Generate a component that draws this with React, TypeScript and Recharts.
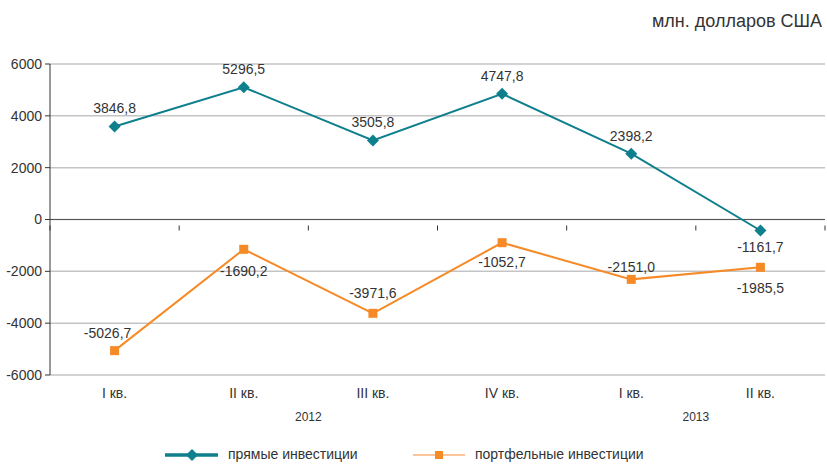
import { LineChart, Line, XAxis, YAxis, CartesianGrid, ReferenceLine } from 'recharts'

// quarters (unique ids so duplicate labels don't collapse)
const periodIds = ['2012-I', '2012-II', '2012-III', '2012-IV', '2013-I', '2013-II']
const quarterLabels = ['I кв.', 'II кв.', 'III кв.', 'IV кв.', 'I кв.', 'II кв.']
const years = ['2012', '2012', '2012', '2012', '2013', '2013']

// values as drawn (marker positions)
const directValues = [3590, 5100, 3050, 4850, 2540, -425]
const portfolioValues = [-5060, -1150, -3620, -895, -2310, -1845]

// printed data labels
const directLabels = ['3846,8', '5296,5', '3505,8', '4747,8', '2398,2', '-1161,7']
const portfolioLabels = ['-5026,7', '-1690,2', '-3971,6', '-1052,7', '-2151,0', '-1985,5']

const yTicks = [-6000, -4000, -2000, 0, 2000, 4000, 6000]
const Y_MIN = -6000
const Y_MAX = 6000

// label vertical offsets (px) relative to marker
const directLabelDy = [-18, -18, -18, -18, -18, 16]
const portfolioLabelDy = [-18, 22, -20, 19, -12, 21]
const portfolioLabelDx = [-7, 0, 0, 0, 0, 0]

const TEAL = '#0e7f8c'
const ORANGE = '#f58a26'
const FONT = '"Liberation Sans", Arial, sans-serif'

const W = 827
const H = 464
const MARGIN = { top: 64, right: 2, left: 0, bottom: 0 }
const Y_AXIS_W = 50
const X_AXIS_H = 89
const BAND = (W - MARGIN.left - MARGIN.right - Y_AXIS_W) / periodIds.length
const PLOT_H = H - MARGIN.top - MARGIN.bottom - X_AXIS_H

const data = periodIds.map((id, i) => ({
  id,
  direct: directValues[i],
  portfolio: portfolioValues[i],
}))

const Diamond = ({ cx, cy }: any) => (
  <path d={`M${cx},${cy - 6} L${cx + 6},${cy} L${cx},${cy + 6} L${cx - 6},${cy} Z`} fill={TEAL} />
)

const Square = ({ cx, cy }: any) => (
  <rect x={cx - 4.5} y={cy - 4.5} width={9} height={9} fill={ORANGE} />
)

const makeLabel = (texts: string[], dys: number[], dxs?: number[]) => (props: any) => {
  const { x, y, index } = props
  return (
    <text
      x={x + (dxs ? dxs[index] : 0)}
      y={y + dys[index]}
      textAnchor="middle"
      dominantBaseline="central"
      fontFamily={FONT}
      fontSize={14}
      fill="#333"
    >
      {texts[index]}
    </text>
  )
}

const QuarterTick = ({ x, y, payload }: any) => {
  const i = payload.index
  const first = years.indexOf(years[i])
  const count = years.filter((yr) => yr === years[i]).length
  // zero line sits inside the plot; category boundary ticks hang from it
  const zeroY = y - (PLOT_H * (0 - Y_MIN)) / (Y_MAX - Y_MIN)
  return (
    <g>
      <line x1={x - BAND / 2} y1={zeroY} x2={x - BAND / 2} y2={zeroY + 5} stroke="#333" />
      {i === periodIds.length - 1 && (
        <line x1={x + BAND / 2} y1={zeroY} x2={x + BAND / 2} y2={zeroY + 5} stroke="#333" />
      )}
      <text x={x} y={y + 17} textAnchor="middle" fontFamily={FONT} fontSize={14} fill="#333">
        {quarterLabels[i]}
      </text>
      {i === first && (
        <text
          x={x + ((count - 1) * BAND) / 2}
          y={y + 40}
          textAnchor="middle"
          fontFamily={FONT}
          fontSize={12}
          fill="#333"
        >
          {years[i]}
        </text>
      )}
    </g>
  )
}

export default function App() {
  return (
    <div style={{ position: 'absolute', left: 0, top: 0, width: W, height: H, background: '#fff' }}>
      <div
        style={{
          position: 'absolute',
          right: 5,
          top: 11,
          fontFamily: FONT,
          fontSize: 18,
          color: '#333',
        }}
      >
        млн. долларов США
      </div>
      <LineChart width={W} height={H} data={data} margin={MARGIN}>
        <CartesianGrid vertical={false} stroke="#c4c4c4" strokeWidth={1.5} />
        <XAxis
          dataKey="id"
          scale="band"
          height={X_AXIS_H}
          axisLine={false}
          tickLine={false}
          interval={0}
          tickMargin={0}
          tick={<QuarterTick />}
        />
        <YAxis
          width={Y_AXIS_W}
          domain={[Y_MIN, Y_MAX]}
          ticks={yTicks}
          interval={0}
          axisLine={{ stroke: '#333' }}
          tickLine={{ stroke: '#333' }}
          tickSize={5}
          tickMargin={3}
          tick={{ fontFamily: FONT, fontSize: 14, fill: '#333' }}
        />
        <ReferenceLine y={0} stroke="#555" strokeWidth={1.2} />
        <Line
          dataKey="direct"
          stroke={TEAL}
          strokeWidth={2}
          dot={<Diamond />}
          activeDot={false}
          label={makeLabel(directLabels, directLabelDy)}
          isAnimationActive={false}
        />
        <Line
          dataKey="portfolio"
          stroke={ORANGE}
          strokeWidth={2}
          dot={<Square />}
          activeDot={false}
          label={makeLabel(portfolioLabels, portfolioLabelDy, portfolioLabelDx)}
          isAnimationActive={false}
        />
      </LineChart>
      <div
        style={{
          position: 'absolute',
          top: 444,
          left: 0,
          width: W,
          height: 22,
          fontFamily: FONT,
          fontSize: 14,
          color: '#333',
        }}
      >
        <svg width={60} height={22} style={{ position: 'absolute', left: 163, top: 0 }}>
          <line x1={2} y1={11} x2={55} y2={11} stroke={TEAL} strokeWidth={3.5} />
          <path d="M29,5 L35,11 L29,17 L23,11 Z" fill={TEAL} />
        </svg>
        <span style={{ position: 'absolute', left: 228, top: 2 }}>прямые инвестиции</span>
        <svg width={60} height={22} style={{ position: 'absolute', left: 411, top: 0 }}>
          <line x1={2} y1={11} x2={54} y2={11} stroke="#f9b27a" strokeWidth={1.5} />
          <rect x={24} y={7} width={8} height={8} fill={ORANGE} />
        </svg>
        <span style={{ position: 'absolute', left: 475, top: 2 }}>портфельные инвестиции</span>
      </div>
    </div>
  )
}
